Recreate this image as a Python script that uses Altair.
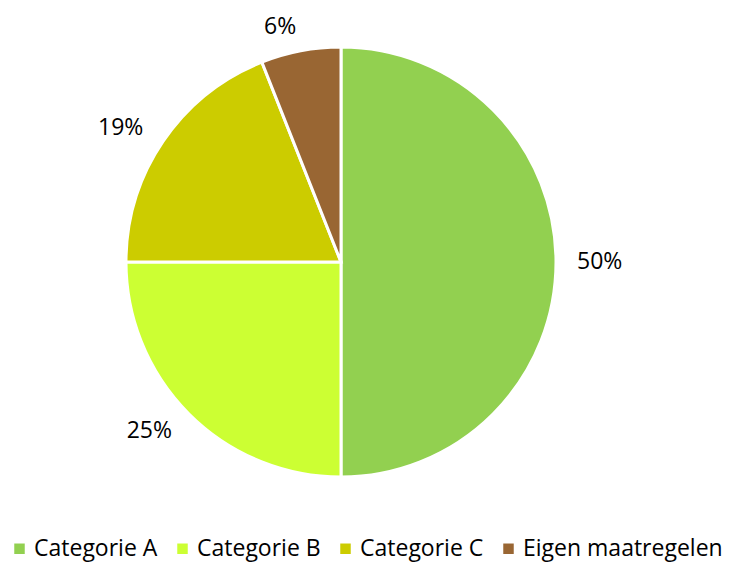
import altair as alt
import pandas as pd

categories = ["Categorie A", "Categorie B", "Categorie C", "Eigen maatregelen"]
values = [50, 25, 19, 6]
labels = ["50%", "25%", "19%", "6%"]
colors = ["#92D050", "#CCFF33", "#CCCC00", "#996633"]

df = pd.DataFrame({
    "cat": categories,
    "val": values,
    "label": labels,
    "ord": list(range(len(categories))),
})

FONT = "Open Sans"
cx, cy = 333, 254
total = sum(values)

theta_scale = alt.Scale(domain=[0, total])

pie = alt.Chart(df).mark_arc(outerRadius=215, stroke="white", strokeWidth=3).encode(
    theta=alt.Theta("val:Q", stack=True, scale=theta_scale),
    order=alt.Order("ord:Q"),
    x=alt.value(cx), y=alt.value(cy),
    color=alt.Color(
        "cat:N",
        scale=alt.Scale(domain=categories, range=colors),
        sort=categories,
        legend=alt.Legend(
            title=None,
            orient="none",
            direction="horizontal",
            legendX=0,
            legendY=529,
            symbolType="square",
            symbolSize=110,
            symbolStrokeWidth=0,
            labelFont=FONT,
            labelFontSize=23,
            labelColor="#000000",
            labelLimit=400,
            columnPadding=13,
            labelOffset=3,
        ),
    ),
)

lab_base = alt.Chart(df).transform_window(
    cum="sum(val)", sort=[{"field": "ord"}]
).transform_calculate(
    mid="datum.cum - datum.val / 2"
)

right_lab = lab_base.transform_filter(f"datum.mid <= {total / 2}").mark_text(
    radius=236, align="left", font=FONT, fontSize=23, color="#000000"
).encode(
    theta=alt.Theta("mid:Q", scale=theta_scale),
    x=alt.value(cx), y=alt.value(cy),
    text="label:N",
)

left_lab = lab_base.transform_filter(f"datum.mid > {total / 2}").mark_text(
    radius=239, align="right", font=FONT, fontSize=23, color="#000000"
).encode(
    theta=alt.Theta("mid:Q", scale=theta_scale),
    x=alt.value(cx), y=alt.value(cy),
    text="label:N",
)

chart = (pie + right_lab + left_lab).properties(
    width=722, height=554,
    autosize=alt.AutoSizeParams(type="none"),
    padding=0,
).configure_view(stroke=None)

chart.save("out.html", embed_options={"renderer": "svg", "actions": False})
